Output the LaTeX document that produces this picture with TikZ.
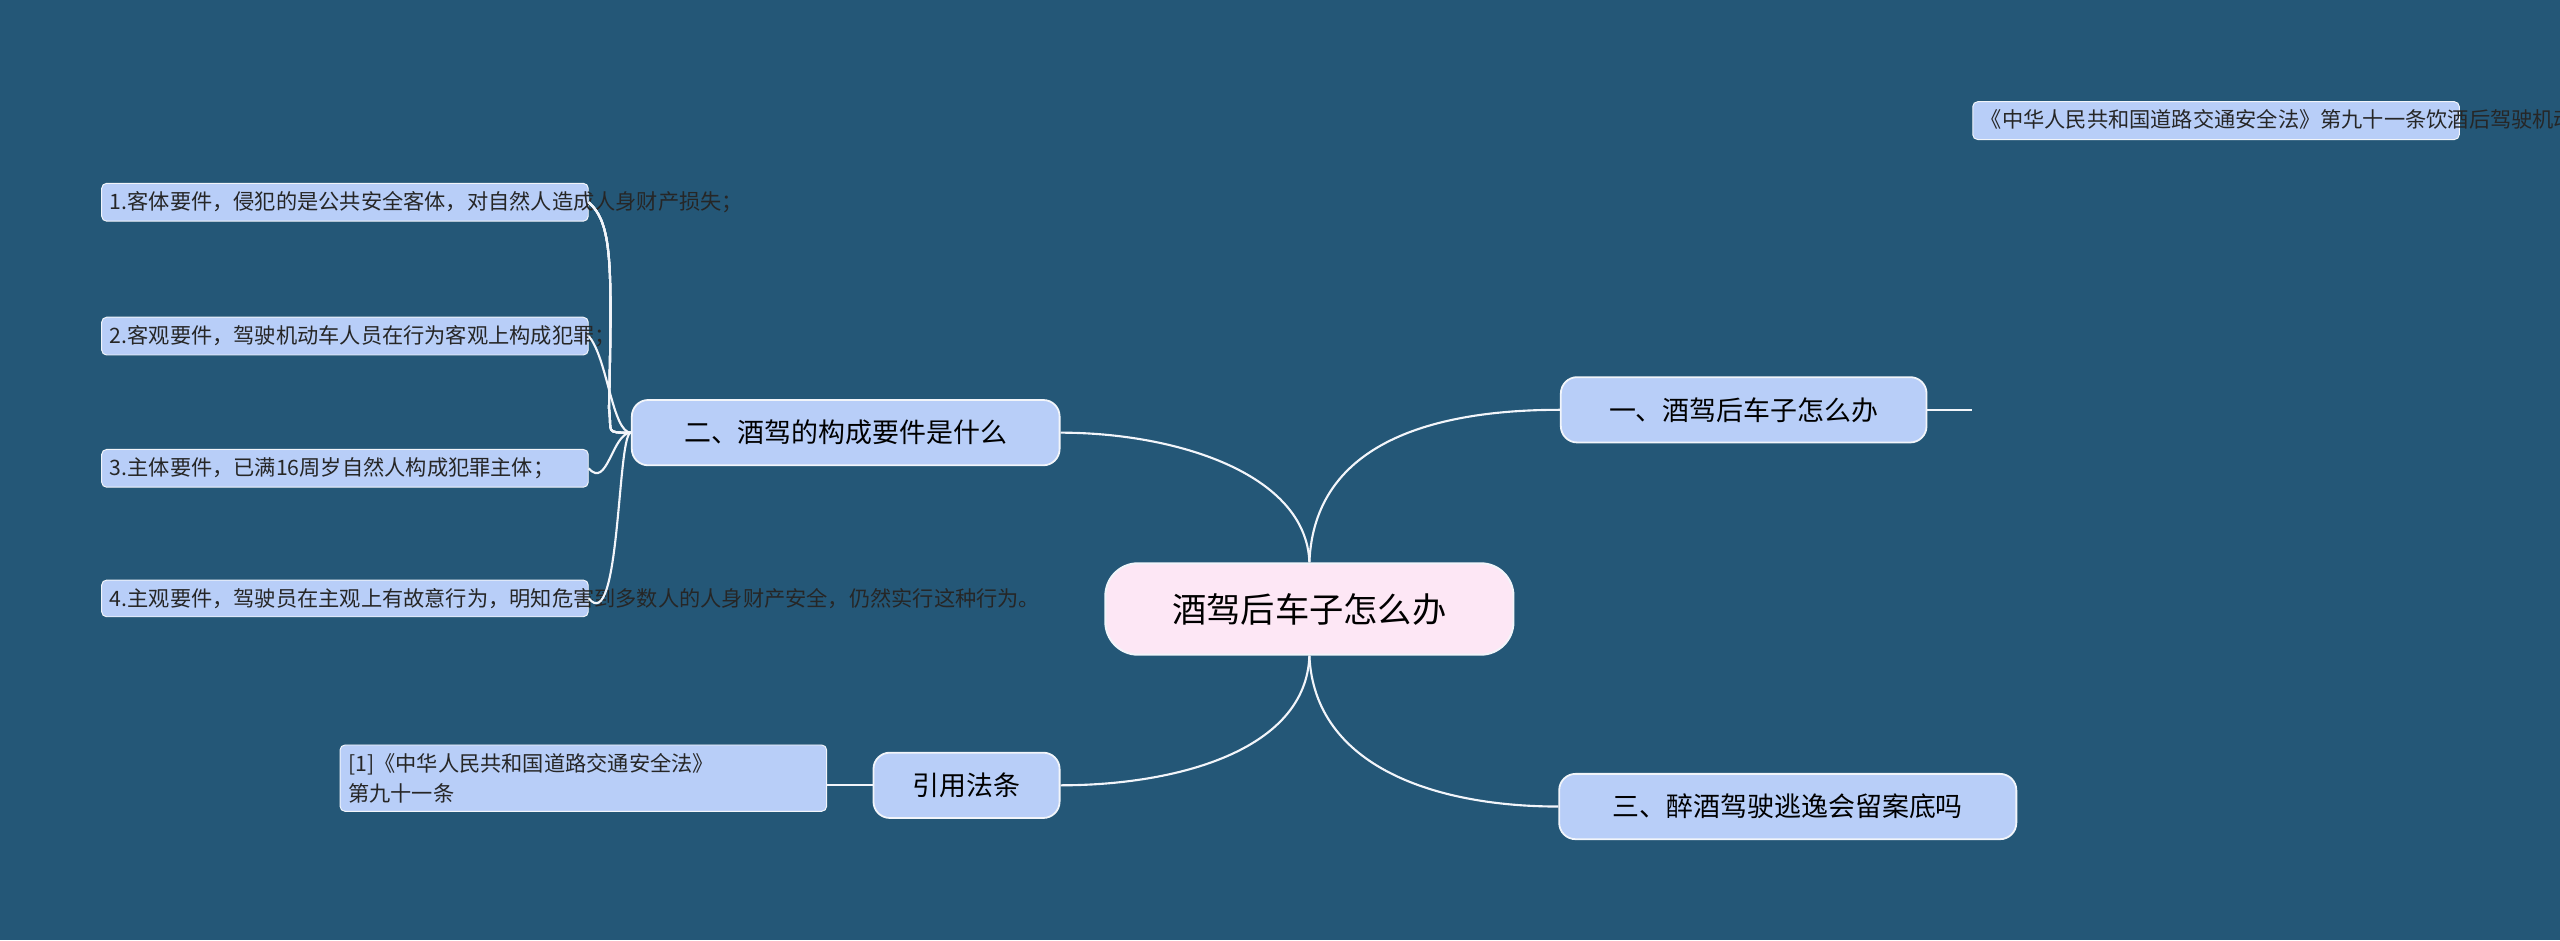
\documentclass[tikz,border=0pt]{standalone}
\usepackage{fontspec}
\setmainfont{Noto Sans CJK SC}
\begin{document}
\begin{tikzpicture}[x=1pt,y=-1pt,
 bg/.style={fill=bgc},
 br/.style={draw=linec,line width=1.1pt,fill=boxc,rounded corners=10pt,minimum height=40pt,font=\fontsize{16.5}{20}\selectfont,text=black,inner xsep=12pt},
 leaf/.style={draw=linec,line width=0.6pt,fill=boxc,rounded corners=3pt,align=left,text width=#1,font=\fontsize{13}{18.5}\selectfont,text=black!85,inner sep=5pt,anchor=north west},
 con/.style={draw=linec,line width=1.3pt}]
\definecolor{bgc}{HTML}{245777}
\definecolor{boxc}{HTML}{B8CEF8}
\definecolor{linec}{HTML}{F2F5FA}
\definecolor{cenc}{HTML}{FDE7F5}
\fill[bgc] (0,0) rectangle (1568,576);
\useasboundingbox (0,0) rectangle (1568,576);
\node[draw=linec,line width=1.2pt,fill=cenc,rounded corners=20pt,minimum width=250pt,minimum height=56pt,font=\fontsize{21}{24}\selectfont] (c) at (802,373) {酒驾后车子怎么办};
\node[br,minimum width=224pt] (b1) at (1068,251) {一、酒驾后车子怎么办};
\node[br,minimum width=280pt] (b3) at (1095,494) {三、醉酒驾驶逃逸会留案底吗};
\node[br,minimum width=262pt] (b2) at (518,265) {二、酒驾的构成要件是什么};
\node[br,minimum width=114pt] (b4) at (592,481) {引用法条};
\node[leaf=288pt] (t1) at (1208,62) {《中华人民共和国道路交通安全法》第九十一条饮酒后驾驶机动车的，处暂扣六个月机动车驾驶证，并处一千元以上二千元以下罚款。因饮酒后驾驶机动车被处罚，再次饮酒后驾驶机动车的，处十日以下拘留，并处一千元以上二千元以下罚款，吊销机动车驾驶证。醉酒驾驶机动车的，由公安机关交通管理部门约束至酒醒，吊销机动车驾驶证，依法追究刑事责任；五年内不得重新取得机动车驾驶证。饮酒后驾驶营运机动车的，处十五日拘留，并处五千元罚款，吊销机动车驾驶证，五年内不得重新取得机动车驾驶证。醉酒驾驶营运机动车的，由公安机关交通管理部门约束至酒醒，吊销机动车驾驶证，依法追究刑事责任；十年内不得重新取得机动车驾驶证，重新取得机动车驾驶证后，不得驾驶营运机动车。饮酒后或者醉酒驾驶机动车发生重大交通事故，构成犯罪的，依法追究刑事责任，并由公安机关交通管理部门吊销机动车驾驶证，终生不得重新取得机动车驾驶证。};
\node[leaf=288pt] (l1) at (62,112) {1.客体要件，侵犯的是公共安全客体，对自然人造成人身财产损失；};
\node[leaf=288pt] (l2) at (62,194) {2.客观要件，驾驶机动车人员在行为客观上构成犯罪；};
\node[leaf=288pt] (l3) at (62,275) {3.主体要件，已满16周岁自然人构成犯罪主体；};
\node[leaf=288pt] (l4) at (62,355) {4.主观要件，驾驶员在主观上有故意行为，明知危害到多数人的人身财产安全，仍然实行这种行为。};
\node[leaf=288pt] (r1) at (208,456) {[1]《中华人民共和国道路交通安全法》 第九十一条};
\coordinate (co) at (802,345);
\coordinate (ci) at (802,401);
\draw[con] (c.north) .. controls (805,270) and (880,251) .. (b1.west);
\draw[con] (c.south) .. controls (805,470) and (880,494) .. (b3.west);
\draw[con] (c.north) .. controls (800,290) and (720,265) .. (b2.east);
\draw[con] (c.south) .. controls (800,460) and (720,481) .. (b4.east);
\draw[con] (b1.east) -- (t1.west|-b1.east);
\draw[con] (b4.west) -- (r1.east|-b4.west);
\foreach \l in {l1,l2,l3,l4}
 \draw[con] (b2.west) .. controls (370,265) and (375,265) .. (373,250) -- ([yshift=0pt]373,250) .. controls (375,160) and (375,137) .. (l1.east) ;
\draw[con] (b2.west) .. controls (375,265) and (372,219) .. (l2.east);
\draw[con] (b2.west) .. controls (375,265) and (372,300) .. (l3.east);
\draw[con] (b2.west) .. controls (378,265) and (380,390) .. (l4.east);
\end{tikzpicture}
\end{document}
